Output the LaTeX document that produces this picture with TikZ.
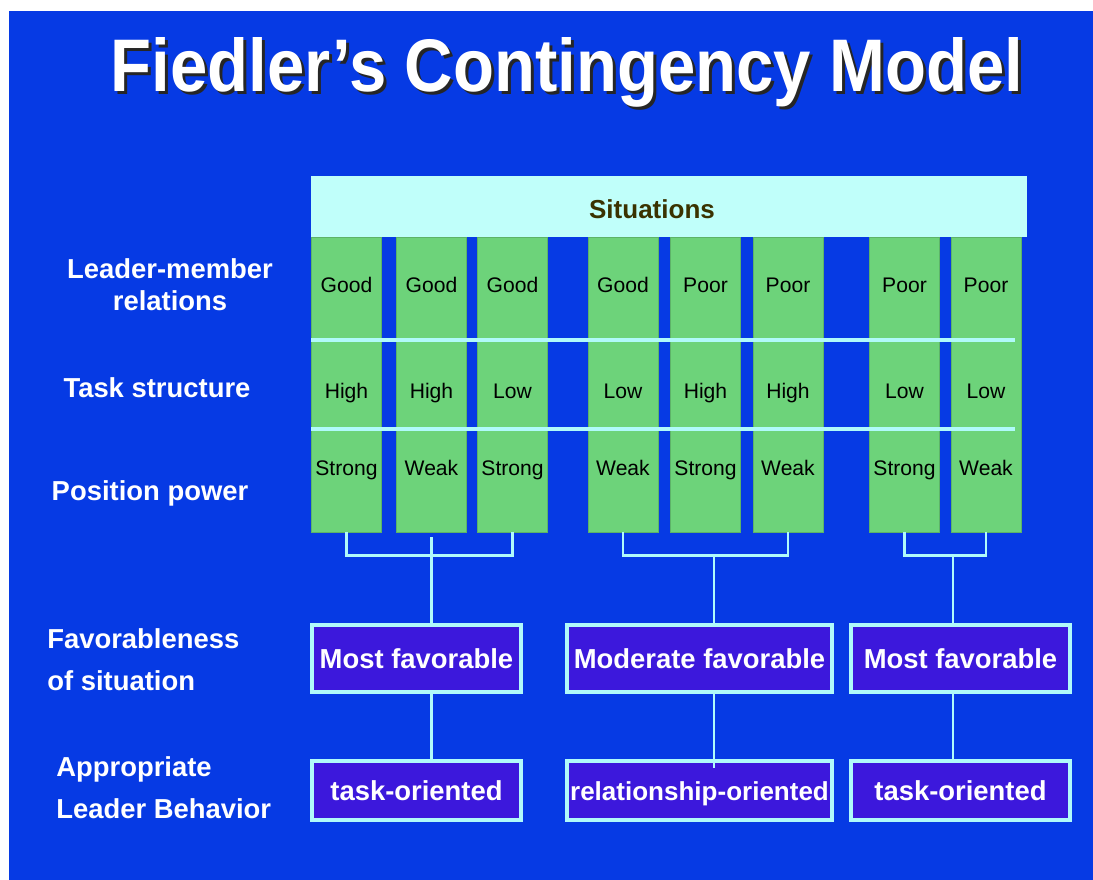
\documentclass[tikz,border=0pt]{standalone}
\usepackage{fontspec}
\setmainfont{Liberation Sans}
\usetikzlibrary{positioning}

\definecolor{bgblue}{RGB}{6,58,228}
\definecolor{headcyan}{RGB}{192,255,250}
\definecolor{cellgreen}{RGB}{109,211,122}
\definecolor{linecyan}{RGB}{176,250,250}
\definecolor{boxpurple}{RGB}{60,24,220}
\definecolor{olive}{RGB}{58,50,0}

\tikzset{
  col/.style={fill=cellgreen,draw=cellgreen!85!black,line width=0.3pt,minimum width=1.75cm,minimum height=7.375cm,inner sep=0pt},
  cell/.style={anchor=base,inner sep=0pt,font=\fontsize{15}{18}\selectfont},
  rowlabel/.style={text=white,inner sep=0pt,align=center,font=\bfseries\fontsize{19.5}{22.8}\selectfont},
  sidelabel/.style={text=white,inner sep=0pt,anchor=west,align=left,font=\bfseries\fontsize{19.5}{29.9}\selectfont},
  outbox/.style={draw=linecyan,line width=2.85pt,fill=boxpurple,text=white,inner sep=0pt,text height=14pt,text depth=0pt,font=\bfseries\fontsize{19.5}{23}\selectfont},
  link/.style={draw=linecyan,line width=2.1pt},
  sepline/.style={draw=linecyan,line width=2.85pt}
}

% title words with a dark drop shadow behind them
\newcommand{\titlewords}{\scalebox{0.9}[1]{\bfseries\fontsize{53}{60}\selectfont Fiedler’s Contingency Model}}
\newcommand{\titletext}{\rlap{\kern0.075cm\raisebox{-0.075cm}{\color{black!85}\titlewords}}\titlewords}

\begin{document}
\begin{tikzpicture}[x=0.025cm,y=-0.025cm]
\useasboundingbox (0,0) rectangle (1093,880);
\fill[white] (0,0) rectangle (1093,880);
\fill[bgblue] (9,11) rectangle (1093,880);

% title
\node[anchor=base,inner sep=0pt,text=white] (title) at (567,92) {\titletext};

% header
\node[fill=headcyan,minimum width=17.9cm,minimum height=1.525cm,inner sep=0pt] (sit) at (669,206.5) {};
\node[text=olive,inner sep=0pt,font=\bfseries\fontsize{18.5}{22}\selectfont] at (652,209) {Situations};

% columns and their values
\foreach \n/\x/\a/\b/\c in {1/346.5/Good/High/Strong,2/431.5/Good/High/Weak,3/512.5/Good/Low/Strong,4/623/Good/Low/Weak,5/705.5/Poor/High/Strong,6/788/Poor/High/Weak,7/904.5/Poor/Low/Strong,8/986/Poor/Low/Weak}{
  \node[col] (col\n) at (\x,384.5) {};
  \node[cell] at (\x,292) {\a};
  \node[cell] at (\x,398) {\b};
  \node[cell] at (\x,475) {\c};
}

\draw[sepline] (311,340) -- (1015,340);
\draw[sepline] (311,429) -- (1015,429);

% row labels
\node[rowlabel] (lmr) at (170,285) {Leader-member\\relations};
\node[rowlabel] (ts) at (157,388) {Task structure};
\node[rowlabel] (pp) at (150,493) {Position power};
\node[sidelabel] (fos) at (47,660) {Favorableness\\of situation};
\node[sidelabel] (alb) at (56,788) {Appropriate\\Leader Behavior};

% brackets
\draw[link] (col1.south) -- ++(0,23) -| (col3.south);
\draw[link] (col4.south) -- ++(0,23) -| (col6.south);
\draw[link] (col7.south) -- ++(0,23) -| (col8.south);
\coordinate (j1) at (431.5,537);
\coordinate (j2) at (714,555);
\coordinate (j3) at (953,555);

\node[outbox,minimum width=5.225cm,minimum height=1.675cm] (fav1) at (416.5,658.5) {Most favorable};
\node[outbox,minimum width=6.625cm,minimum height=1.675cm] (fav2) at (699.5,658.5) {Moderate favorable};
\node[outbox,minimum width=5.475cm,minimum height=1.675cm] (fav3) at (960.5,658.5) {Most favorable};

\node[outbox,minimum width=5.225cm,minimum height=1.475cm] (beh1) at (416.5,790.5) {task-oriented};
\node[outbox,minimum width=6.625cm,minimum height=1.475cm,font=\bfseries\fontsize{18.5}{22}\selectfont] (beh2) at (699.5,790.5) {relationship-oriented};
\node[outbox,minimum width=5.475cm,minimum height=1.475cm] (beh3) at (960.5,790.5) {task-oriented};

\draw[link] (j1) -- (j1 |- fav1.north);
\draw[link] (j1 |- fav1.south) -- (j1 |- beh1.north);
\draw[link] (j2) -- (j2 |- fav2.north);
\draw[link] (j2 |- fav2.south) -- (j2 |- beh2.north) -- ++(0,9);
\draw[link] (j3) -- (j3 |- fav3.north);
\draw[link] (j3 |- fav3.south) -- (j3 |- beh3.north);

\end{tikzpicture}
\end{document}
